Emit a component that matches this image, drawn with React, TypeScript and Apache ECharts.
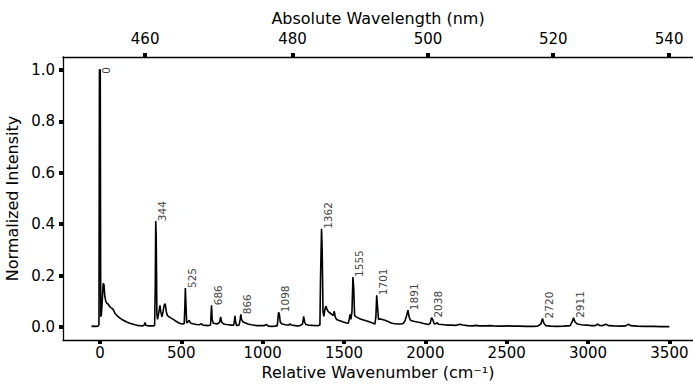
import React, { useEffect, useRef } from "react";
import * as echarts from "echarts";

const specX = [-52,-40,-25,-12,-6,-3,2,5,9,14,20,25,30,36,42,50,58,66,72,80,88,92,100,110,123,135,150,165,184,200,215,230,245,264,272,277,282,300,320,336,340,343,346,350,354,360,369,374,381,388,393,398,402,408,414,425,440,455,470,492,510,518,522,525,528,533,540,549,556,570,594,610,625,632,650,664,680,683,686,690,697,707,720,735,742,748,760,778,800,822,826,830,834,840,855,862,866,870,880,891,910,930,963,990,1010,1024,1035,1055,1075,1090,1095,1098,1103,1108,1116,1140,1160,1168,1175,1209,1230,1245,1252,1258,1266,1280,1310,1342,1352,1356,1362,1366,1371,1376,1383,1389,1395,1403,1414,1425,1434,1440,1446,1454,1470,1496,1515,1526,1532,1537,1542,1549,1555,1560,1565,1575,1590,1600,1620,1640,1659,1675,1690,1696,1701,1706,1712,1720,1735,1752,1770,1790,1803,1830,1850,1864,1875,1885,1893,1900,1907,1915,1935,1950,1967,1990,2018,2030,2038,2045,2055,2065,2073,2080,2100,2130,2160,2190,2213,2230,2260,2290,2310,2330,2370,2395,2420,2450,2480,2510,2540,2580,2620,2660,2690,2710,2720,2728,2740,2770,2810,2850,2890,2902,2911,2920,2935,2960,2990,3020,3045,3060,3070,3090,3110,3125,3160,3200,3230,3250,3262,3300,3350,3400,3450,3500];
const specY = [0.003,0.004,0.003,0.004,0.01,1.0,1.0,0.04,0.05,0.1,0.17,0.165,0.12,0.1,0.093,0.09,0.082,0.076,0.074,0.07,0.06,0.054,0.048,0.042,0.035,0.03,0.025,0.02,0.015,0.012,0.009,0.007,0.006,0.005,0.008,0.018,0.007,0.005,0.005,0.006,0.15,0.412,0.35,0.05,0.03,0.05,0.085,0.06,0.04,0.06,0.08,0.09,0.088,0.06,0.046,0.04,0.034,0.028,0.022,0.014,0.012,0.014,0.08,0.152,0.1,0.016,0.02,0.027,0.016,0.013,0.01,0.009,0.013,0.008,0.007,0.006,0.008,0.05,0.085,0.03,0.015,0.014,0.012,0.018,0.04,0.02,0.012,0.01,0.008,0.008,0.02,0.044,0.02,0.006,0.008,0.03,0.05,0.03,0.02,0.017,0.012,0.009,0.006,0.006,0.006,0.01,0.004,0.003,0.004,0.006,0.04,0.058,0.05,0.02,0.013,0.009,0.008,0.013,0.008,0.005,0.006,0.012,0.042,0.02,0.01,0.008,0.007,0.006,0.008,0.2,0.382,0.3,0.06,0.042,0.07,0.081,0.07,0.06,0.055,0.05,0.045,0.062,0.04,0.03,0.026,0.02,0.016,0.015,0.03,0.05,0.03,0.06,0.195,0.15,0.045,0.04,0.035,0.032,0.028,0.024,0.02,0.016,0.012,0.04,0.124,0.08,0.03,0.032,0.03,0.027,0.022,0.016,0.014,0.012,0.012,0.014,0.025,0.045,0.066,0.04,0.028,0.025,0.022,0.02,0.018,0.014,0.01,0.015,0.037,0.03,0.012,0.014,0.017,0.011,0.01,0.008,0.008,0.007,0.011,0.008,0.006,0.005,0.007,0.005,0.005,0.006,0.005,0.004,0.004,0.005,0.004,0.004,0.003,0.003,0.004,0.012,0.034,0.015,0.006,0.004,0.003,0.004,0.006,0.02,0.036,0.02,0.012,0.009,0.008,0.006,0.006,0.012,0.007,0.006,0.011,0.006,0.005,0.004,0.005,0.011,0.006,0.004,0.003,0.003,0.002,0.002];

const peakPos = [0, 344, 525, 686, 866, 1098, 1362, 1555, 1701, 1891, 2038, 2720, 2911];
const peakHeight = [0.985, 0.412, 0.152, 0.085, 0.05, 0.058, 0.382, 0.195, 0.124, 0.066, 0.037, 0.034, 0.036];
const peakText = ["0", "344", "525", "686", "866", "1098", "1362", "1555", "1701", "1891", "2038", "2720", "2911"];

const bottomTicks = [0, 500, 1000, 1500, 2000, 2500, 3000, 3500];
const topTicksNm = [460, 480, 500, 520, 540];
const yTicks = [0, 0.2, 0.4, 0.6, 0.8, 1.0];
const laserNm = 454.2;

const FONT = "DejaVu Sans";

export default function App() {
  const ref = useRef<HTMLDivElement>(null);
  useEffect(() => {
    document.body.style.margin = "0";
    const chart = echarts.init(ref.current!, null, { renderer: "svg" });
    const toCm = (nm: number) => 1e7 / laserNm - 1e7 / nm;
    const toNm = (cm: number) => 1e7 / (1e7 / laserNm - cm);
    const topTickPos = topTicksNm.map(toCm);
    const tickStyle = { show: true, length: 4, lineStyle: { color: "#000", width: 4 } };
    const axisLine = { show: true, onZero: false, lineStyle: { color: "#000", width: 1.3 } };
    chart.setOption({
      animation: false,
      grid: { left: 63, right: 0, top: 57, bottom: 44, outerBoundsMode: "none" },
      xAxis: [
        {
          type: "value",
          min: -227,
          max: 3645,
          position: "bottom",
          axisLine,
          axisTick: { ...tickStyle, customValues: bottomTicks },
          axisLabel: {
            customValues: bottomTicks,
            formatter: (v: number) => String(v),
            color: "#000",
            fontFamily: FONT,
            fontSize: 15,
            margin: 5,
          },
          splitLine: { show: false },
          name: "Relative Wavenumber (cm⁻¹)",
          nameLocation: "middle",
          nameGap: 24,
          nameTextStyle: { color: "#000", fontFamily: FONT, fontSize: 16 },
        },
        {
          type: "value",
          min: -227,
          max: 3645,
          position: "top",
          axisLine,
          axisTick: { ...tickStyle, customValues: topTickPos },
          axisLabel: {
            customValues: topTickPos,
            formatter: (v: number) => String(Math.round(toNm(v))),
            color: "#000",
            fontFamily: FONT,
            fontSize: 15,
            margin: 11,
          },
          splitLine: { show: false },
          name: "Absolute Wavelength (nm)",
          nameLocation: "middle",
          nameGap: 31,
          nameTextStyle: { color: "#000", fontFamily: FONT, fontSize: 16 },
        },
      ],
      yAxis: {
        type: "value",
        min: -0.05,
        max: 1.05,
        axisLine,
        axisTick: { ...tickStyle, customValues: yTicks },
        axisLabel: {
          customValues: yTicks,
          formatter: (v: number) => v.toFixed(1),
          color: "#000",
          fontFamily: FONT,
          fontSize: 15,
          margin: 8,
        },
        splitLine: { show: false },
        name: "Normalized Intensity",
        nameLocation: "middle",
        nameGap: 34,
        nameTextStyle: { color: "#000", fontFamily: FONT, fontSize: 16 },
      },
      series: [
        {
          type: "line",
          xAxisIndex: 0,
          yAxisIndex: 0,
          data: specX.map((x, i) => [x, specY[i]]),
          symbol: "none",
          lineStyle: { color: "#000", width: 1.6 },
        },
        {
          type: "custom",
          xAxisIndex: 0,
          yAxisIndex: 0,
          data: peakPos.map((x, i) => [x, peakHeight[i]]),
          renderItem: (params: any, api: any) => {
            const p = api.coord([api.value(0), api.value(1)]);
            return {
              type: "text",
              x: p[0] + 1,
              y: p[1],
              rotation: Math.PI / 2,
              style: {
                text: peakText[params.dataIndex],
                fill: "#444",
                font: `10.5px "${FONT}"`,
                align: "left",
                verticalAlign: "top",
              },
            };
          },
        },
      ],
    });
    return () => chart.dispose();
  }, []);
  return <div ref={ref} style={{ width: 693, height: 384 }} />;
}
